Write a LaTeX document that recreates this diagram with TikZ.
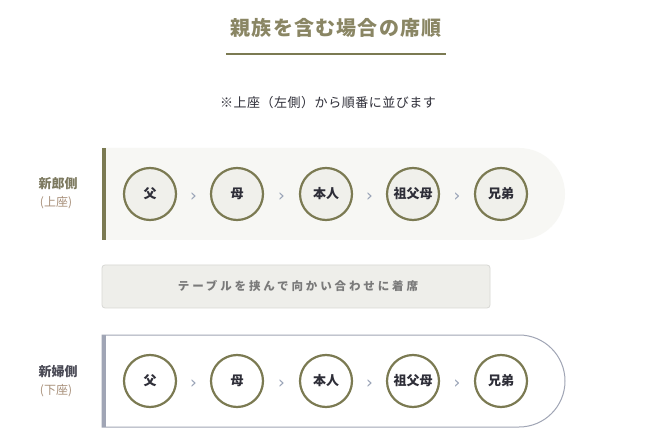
\documentclass[tikz,border=0pt]{standalone}
\usepackage{fontspec}
\newfontfamily\cjk{Noto Sans CJK JP}
\newfontfamily\cjkspaced[LetterSpace=25]{Noto Sans CJK JP}
\newfontfamily\cjktitle[LetterSpace=6]{Noto Sans CJK JP}
\newfontfamily\cjknote[LetterSpace=4]{Noto Sans CJK JP}
\newfontfamily\symfont{DejaVu Sans}
\usetikzlibrary{calc}
\definecolor{olive}{HTML}{7B7A52}
\definecolor{titlecol}{HTML}{8A8664}
\definecolor{topfill}{HTML}{F7F7F4}
\definecolor{circfill}{HTML}{F0F0EB}
\definecolor{midfill}{HTML}{EEEEEA}
\definecolor{midborder}{HTML}{D8D8D4}
\definecolor{midtext}{HTML}{7A7A7A}
\definecolor{bluegray}{HTML}{A0A5B5}
\definecolor{chevcol}{HTML}{98A2B6}
\definecolor{darktext}{HTML}{2E2E38}
\definecolor{groomcol}{HTML}{7D7A60}
\definecolor{bridecol}{HTML}{4A4A55}
\definecolor{seatcol}{HTML}{A8907A}
\tikzset{
  x=1pt, y=1pt,
  person/.style={circle, draw=olive, line width=2.2pt, minimum size=52pt, inner sep=0pt,
    font=\cjk\fontsize{13}{15}\selectfont\bfseries, text=darktext},
  chev/.style={font=\symfont\fontsize{17}{18}\selectfont, text=chevcol, inner sep=0pt},
  sidelabel/.style={font=\cjk\fontsize{13}{15}\selectfont\bfseries, inner sep=0pt},
  seatlabel/.style={font=\cjk\fontsize{12}{14}\selectfont, text=seatcol, inner sep=0pt},
}
\begin{document}
\begin{tikzpicture}
\useasboundingbox[fill=white] (0,0) rectangle (653,442);
% title
\node[font=\cjktitle\fontsize{20}{24}\selectfont\bfseries, text=titlecol, inner sep=0pt] (title) at (336,414) {親族を含む場合の席順};
\draw[olive, line width=2pt] (226,388) -- (446,388);
\node[font=\cjknote\fontsize{13}{15}\selectfont, text=darktext, inner sep=0pt] (note) at (328,339) {※上座（左側）から順番に並びます};
% top row box
\fill[topfill] (102,294) -- (519,294) arc[start angle=90, end angle=-90, radius=46] -- (102,202) -- cycle;
\fill[olive] (102,202) rectangle (106,294);
\node[sidelabel, text=groomcol] (groom) at (58,258) {新郎側};
\node[seatlabel] (groomseat) at (56,239) {(上座)};
\node[person, fill=circfill] (t1) at (150,248) {父};
\node[person, fill=circfill] (t2) at (237,248) {母};
\node[person, fill=circfill] (t3) at (326,248) {本人};
\node[person, fill=circfill] (t4) at (413,248) {祖父母};
\node[person, fill=circfill] (t5) at (501,248) {兄弟};
\foreach \a/\b in {t1/t2,t2/t3,t3/t4,t4/t5}
  \node[chev] at ($(\a)!0.5!(\b)+(0,-3)$) {›};
% middle box
\draw[fill=midfill, draw=midborder, line width=0.8pt, rounded corners=3pt] (102,134) rectangle (490,177);
\node[font=\cjkspaced\fontsize{11.5}{13}\selectfont\bfseries, text=midtext, inner sep=0pt] (table) at (298,155.5) {テーブルを挟んで向かい合わせに着席};
% bottom row box
\draw[fill=white, draw=bluegray, line width=1pt] (102,107) -- (519,107) arc[start angle=90, end angle=-90, radius=46] -- (102,15) -- cycle;
\fill[bluegray] (102,15) rectangle (106,107);
\node[sidelabel, text=bridecol] (bride) at (58,70) {新婦側};
\node[seatlabel] (brideseat) at (56,51) {(下座)};
\node[person, fill=white] (b1) at (150,61) {父};
\node[person, fill=white] (b2) at (237,61) {母};
\node[person, fill=white] (b3) at (326,61) {本人};
\node[person, fill=white] (b4) at (413,61) {祖父母};
\node[person, fill=white] (b5) at (501,61) {兄弟};
\foreach \a/\b in {b1/b2,b2/b3,b3/b4,b4/b5}
  \node[chev] at ($(\a)!0.5!(\b)+(0,-3)$) {›};
\end{tikzpicture}
\end{document}
